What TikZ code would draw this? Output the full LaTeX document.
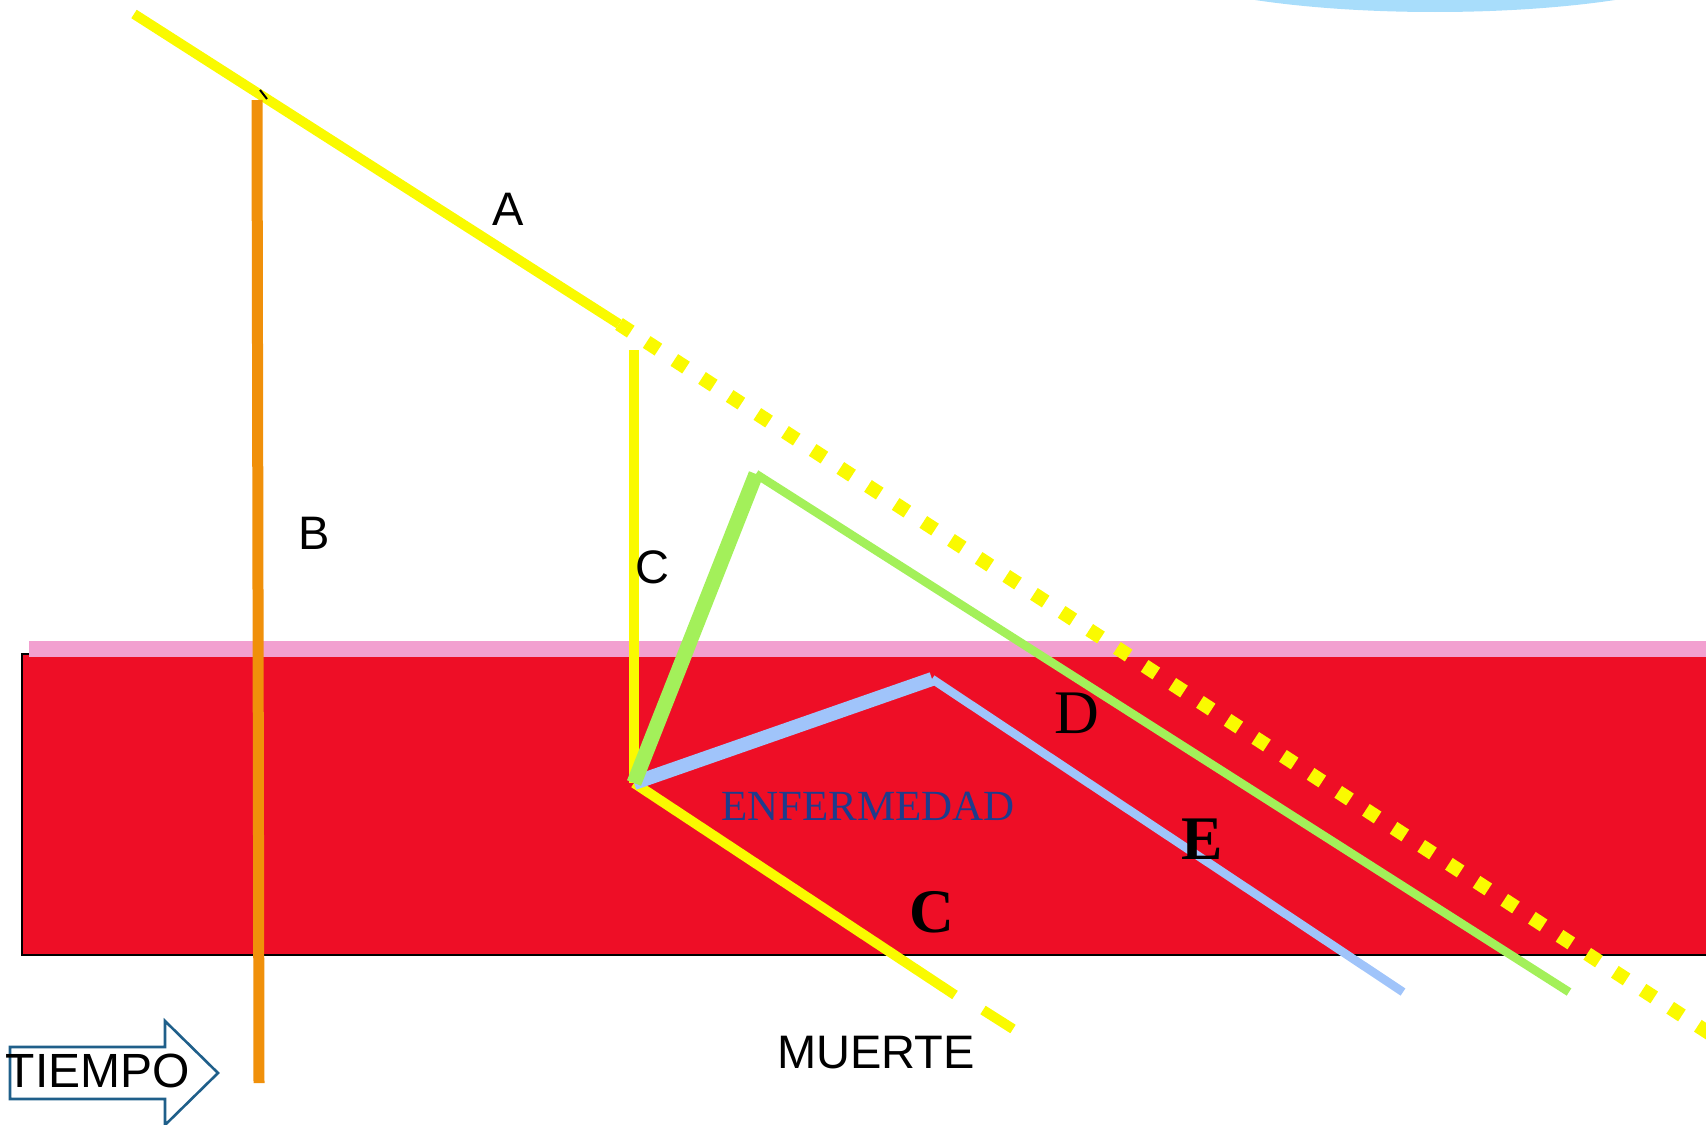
\documentclass[tikz,border=0pt]{standalone}
\usepackage{fontspec}
\setmainfont{Liberation Serif}
\setsansfont{Liberation Sans}
\definecolor{ylw}{RGB}{250,250,0}
\definecolor{org}{RGB}{240,144,10}
\definecolor{grn}{RGB}{163,240,90}
\definecolor{blu}{RGB}{160,196,250}
\definecolor{pnk}{RGB}{242,160,208}
\definecolor{rd}{RGB}{238,14,38}
\definecolor{sky}{RGB}{168,221,251}
\definecolor{navy}{RGB}{30,60,140}
\definecolor{arrowblue}{RGB}{31,95,138}
\begin{document}
\begin{tikzpicture}[x=0.5pt,y=-0.5pt,
  lbl/.style={font=\sffamily\fontsize{23.5}{24}\selectfont, inner sep=0pt},
  slbl/.style={font=\rmfamily\fontsize{31}{32}\selectfont, inner sep=0pt},
  yline/.style={draw=ylw, line width=5pt},
]
\useasboundingbox (0,0) rectangle (1706,1124);
% sky ellipse
\fill[sky] (1435,-48) ellipse [x radius=150pt, y radius=30pt];
% red band
\filldraw[fill=rd, draw=black, line width=1pt] (22,654) rectangle (1712,955);
\draw[pnk, line width=8pt] (29,649) -- (1712,649);
% coordinates
\coordinate (a0) at (134,14);
\coordinate (a1) at (619,324);
\coordinate (a2) at (1712,1035);
\coordinate (b0) at (257,100);
\coordinate (b1) at (259,1083);
\coordinate (c0) at (634,350);
\coordinate (hub) at (634,783);
\coordinate (g1) at (756,474);
\coordinate (g2) at (1569,992);
\coordinate (u1) at (932,679);
\coordinate (u2) at (1403,992);
\coordinate (y1) at (955,995);
\coordinate (y2) at (983,1010);
\coordinate (y3) at (1013,1029);
\coordinate (t0) at (260,90);
\coordinate (t1) at (267,99);
% A line
\draw[yline, line cap=butt] (a0) -- (a1);
\draw[draw=ylw, line width=7pt, dash pattern=on 7pt off 9.5pt] (a1) -- (a2);
% B line
\draw[org, line width=5.5pt] (b0) -- (b1);
\draw[black, line width=1pt] (t0) -- (t1);
% C vertical
\draw[yline] (c0) -- (hub);
% C bottom
\draw[yline] (hub) -- (y1);
\draw[yline] (y2) -- (y3);
% blue
\draw[blu, line width=4.3pt] (u1) -- (u2);
\draw[blu, line width=7pt] (hub) -- (u1);
% green
\draw[grn, line width=4.3pt] (g1) -- (g2);
\draw[grn, line width=7.5pt] (hub) -- (g1);
% labels
\node[lbl] (la) at (508,209) {A};
\node[lbl] (lb) at (314,533) {B};
\node[lbl] (lc) at (652,567) {C};
\node[slbl] (ld) at (1077,713) {D};
\node[slbl, font=\rmfamily\bfseries\fontsize{31}{32}\selectfont] (le) at (1202,839) {E};
\node[slbl, font=\rmfamily\bfseries\fontsize{31}{32}\selectfont] (lc2) at (932,912) {C};
\node[inner sep=0pt, text=navy, font=\rmfamily\fontsize{21.5}{22}\selectfont] (enf) at (868,806) {ENFERMEDAD};
\node[lbl] (muerte) at (876,1053) {MUERTE};
% TIEMPO arrow
\draw[arrowblue, fill=white, line width=1.3pt] (10,1047) -- (165,1047) -- (165,1021) -- (218,1073) -- (165,1125) -- (165,1099) -- (10,1099) -- cycle;
\node[lbl, font=\sffamily\fontsize{24}{25}\selectfont] (tiempo) at (98,1071) {TIEMPO};
\end{tikzpicture}
\end{document}
